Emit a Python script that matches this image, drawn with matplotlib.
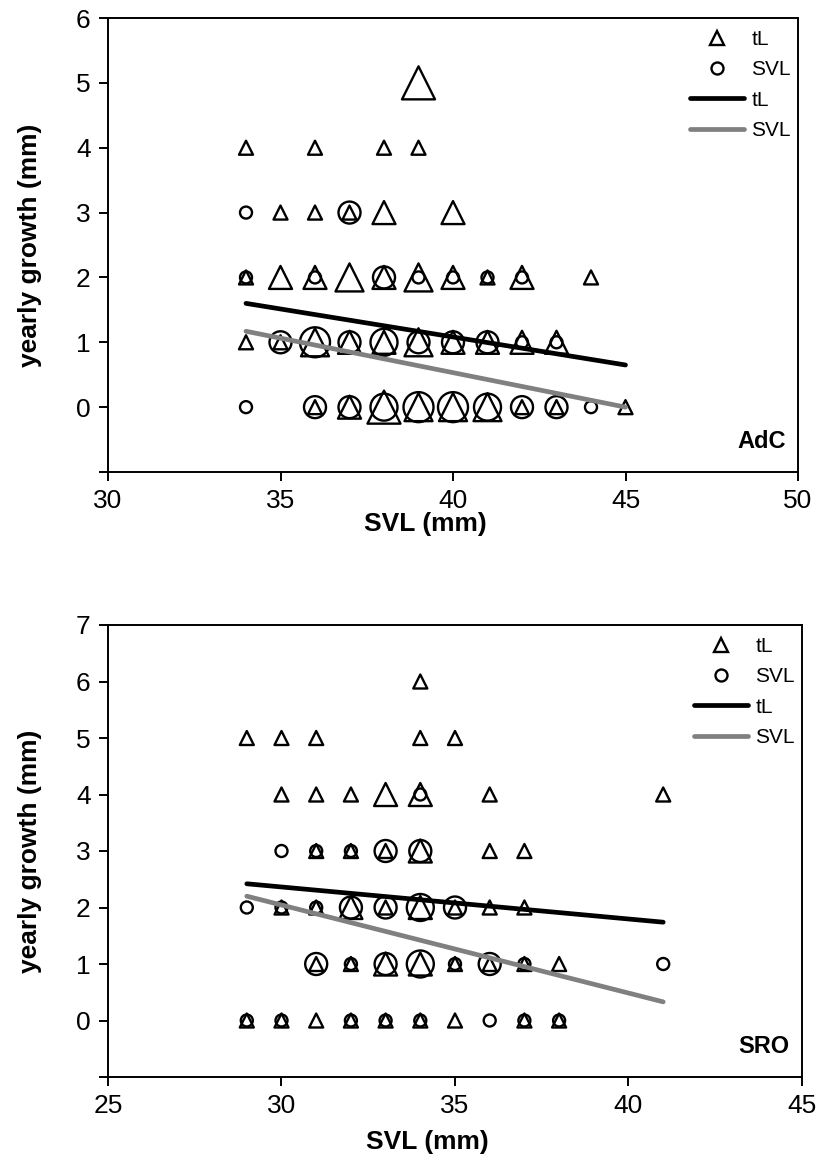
# =========================================================
# yearly growth vs SVL, two sites (AdC, SRO)
# =========================================================

import matplotlib

matplotlib.use("Agg")

import matplotlib.pyplot as plt
from matplotlib.lines import Line2D

plt.rcParams["font.family"] = ["Liberation Sans", "DejaVu Sans"]

# =========================================================
# DATA  (n = number of animals at that point -> marker size)
# =========================================================

# --- AdC ---
adc_tl_x = [39,
            34, 36, 38, 39,
            35, 36, 37, 38, 40,
            34, 35, 36, 37, 38, 39, 40, 41, 42, 44,
            34, 35, 36, 37, 38, 39, 40, 41, 42, 43,
            36, 37, 38, 39, 40, 41, 42, 43, 45]
adc_tl_y = [5,
            4, 4, 4, 4,
            3, 3, 3, 3, 3,
            2, 2, 2, 2, 2, 2, 2, 2, 2, 2,
            1, 1, 1, 1, 1, 1, 1, 1, 1, 1,
            0, 0, 0, 0, 0, 0, 0, 0, 0]
adc_tl_n = [4,
            1, 1, 1, 1,
            1, 1, 1, 2, 2,
            1, 2, 2, 3, 2, 3, 2, 1, 2, 1,
            1, 1, 3, 2, 2, 3, 2, 2, 2, 2,
            1, 2, 4, 3, 3, 3, 1, 1, 1]

adc_svl_x = [34, 37,
             34, 36, 38, 39, 40, 41, 42,
             35, 36, 37, 38, 39, 40, 41, 42, 43,
             34, 36, 37, 38, 39, 40, 41, 42, 43, 44]
adc_svl_y = [3, 3,
             2, 2, 2, 2, 2, 2, 2,
             1, 1, 1, 1, 1, 1, 1, 1, 1,
             0, 0, 0, 0, 0, 0, 0, 0, 0, 0]
adc_svl_n = [1, 2,
             1, 1, 2, 1, 1, 1, 1,
             2, 4, 2, 3, 2, 2, 2, 1, 1,
             1, 2, 2, 3, 4, 4, 3, 2, 2, 1]

adc_fit_x = [34, 45]
adc_tl_fit = [1.60, 0.65]
adc_svl_fit = [1.17, 0.0]

# --- SRO ---
sro_tl_x = [34,
            29, 30, 31, 34, 35,
            30, 31, 32, 33, 34, 36, 41,
            31, 32, 33, 34, 36, 37,
            30, 31, 32, 33, 34, 35, 36, 37,
            31, 32, 33, 34, 35, 36, 37, 38,
            29, 30, 31, 32, 33, 34, 35, 37, 38]
sro_tl_y = [6,
            5, 5, 5, 5, 5,
            4, 4, 4, 4, 4, 4, 4,
            3, 3, 3, 3, 3, 3,
            2, 2, 2, 2, 2, 2, 2, 2,
            1, 1, 1, 1, 1, 1, 1, 1,
            0, 0, 0, 0, 0, 0, 0, 0, 0]
sro_tl_n = [1,
            1, 1, 1, 1, 1,
            1, 1, 1, 2, 2, 1, 1,
            1, 1, 1, 2, 1, 1,
            1, 1, 2, 1, 2, 1, 1, 1,
            1, 1, 2, 2, 1, 1, 1, 1,
            1, 1, 1, 1, 1, 1, 1, 1, 1]

sro_svl_x = [34,
             30, 31, 32, 33, 34,
             29, 30, 31, 32, 33, 34, 35,
             31, 32, 33, 34, 35, 36, 37, 41,
             29, 30, 32, 33, 34, 36, 37, 38]
sro_svl_y = [4,
             3, 3, 3, 3, 3,
             2, 2, 2, 2, 2, 2, 2,
             1, 1, 1, 1, 1, 1, 1, 1,
             0, 0, 0, 0, 0, 0, 0, 0]
sro_svl_n = [1,
             1, 1, 1, 2, 2,
             1, 1, 1, 2, 2, 3, 2,
             2, 1, 2, 3, 1, 2, 1, 1,
             1, 1, 1, 1, 1, 1, 1, 1]

sro_fit_x = [29, 41]
sro_tl_fit = [2.42, 1.74]
sro_svl_fit = [2.20, 0.33]

# =========================================================
# STYLE
# =========================================================

# marker width in pixels for each count level
CIRCLE_PX = {1: 12, 2: 22, 3: 27, 4: 30}
TRIANGLE_PX = {1: 14, 2: 23, 3: 28, 4: 33}

PX = 0.72  # points per pixel at dpi 100

GREY = "#808080"


def sizes(counts, table):
    return [(table[c] * PX) ** 2 for c in counts]


def draw_panel(ax, tl_x, tl_y, tl_n, svl_x, svl_y, svl_n,
               fit_x, tl_fit, svl_fit, xlim, ylim, name, xlab_y):

    ax.scatter(tl_x, tl_y, s=sizes(tl_n, TRIANGLE_PX), marker="^",
               facecolors="none", edgecolors="black", linewidths=1.7,
               zorder=3)
    ax.scatter(svl_x, svl_y, s=sizes(svl_n, CIRCLE_PX), marker="o",
               facecolors="none", edgecolors="black", linewidths=1.7,
               zorder=3)

    ax.plot(fit_x, tl_fit, color="black", lw=3.4, solid_capstyle="round",
            zorder=4)
    ax.plot(fit_x, svl_fit, color=GREY, lw=3.4, solid_capstyle="round",
            zorder=4)

    ax.set_xlim(*xlim)
    ax.set_ylim(*ylim)

    ax.set_xticks(range(xlim[0], xlim[1] + 1, 5))
    yt = list(range(ylim[0], ylim[1] + 1))
    ax.set_yticks(yt)
    ax.set_yticklabels(["" if v < 0 else str(v) for v in yt])

    ax.tick_params(direction="out", length=6.5, width=1.4, labelsize=19,
                   pad=6)
    for side in ax.spines.values():
        side.set_linewidth(1.4)

    ax.set_xlabel("SVL (mm)", fontsize=19, fontweight="bold")
    ax.set_ylabel("yearly growth (mm)", fontsize=19, fontweight="bold")
    ax.xaxis.label.set_va("center")
    ax.yaxis.label.set_va("center")
    ax.xaxis.set_label_coords(0.46, xlab_y)
    ax.yaxis.set_label_coords(-0.113, 0.5)

    ax.text(0.982, 0.068, name, transform=ax.transAxes, ha="right",
            va="center", fontsize=17, fontweight="bold")

    handles = [
        Line2D([], [], ls="none", marker="^", markersize=TRIANGLE_PX[1] * PX,
               markerfacecolor="none", markeredgecolor="black",
               markeredgewidth=1.7),
        Line2D([], [], ls="none", marker="o", markersize=CIRCLE_PX[1] * PX,
               markerfacecolor="none", markeredgecolor="black",
               markeredgewidth=1.7),
        Line2D([], [], color="black", lw=3.4, solid_capstyle="round"),
        Line2D([], [], color=GREY, lw=3.4, solid_capstyle="round"),
    ]
    ax.legend(handles, ["tL", "SVL", "tL", "SVL"], loc="upper right",
              bbox_to_anchor=(1.0, 0.99), frameon=False, fontsize=15,
              handlelength=2.6, handletextpad=0.35, labelspacing=0.55,
              borderpad=0.2, borderaxespad=0.15)


# =========================================================
# FIGURE
# =========================================================

fig = plt.figure(figsize=(8.24, 11.66), dpi=100)

ax1 = fig.add_axes([108 / 824, 1 - 472 / 1166, 690 / 824, 454 / 1166])
ax2 = fig.add_axes([108 / 824, 1 - 1077 / 1166, 694 / 824, 452 / 1166])

draw_panel(ax1, adc_tl_x, adc_tl_y, adc_tl_n,
           adc_svl_x, adc_svl_y, adc_svl_n,
           adc_fit_x, adc_tl_fit, adc_svl_fit,
           (30, 50), (-1, 6), "AdC", -0.115)

draw_panel(ax2, sro_tl_x, sro_tl_y, sro_tl_n,
           sro_svl_x, sro_svl_y, sro_svl_n,
           sro_fit_x, sro_tl_fit, sro_svl_fit,
           (25, 45), (-1, 7), "SRO", -0.143)

fig.savefig("out.png", dpi=100)
